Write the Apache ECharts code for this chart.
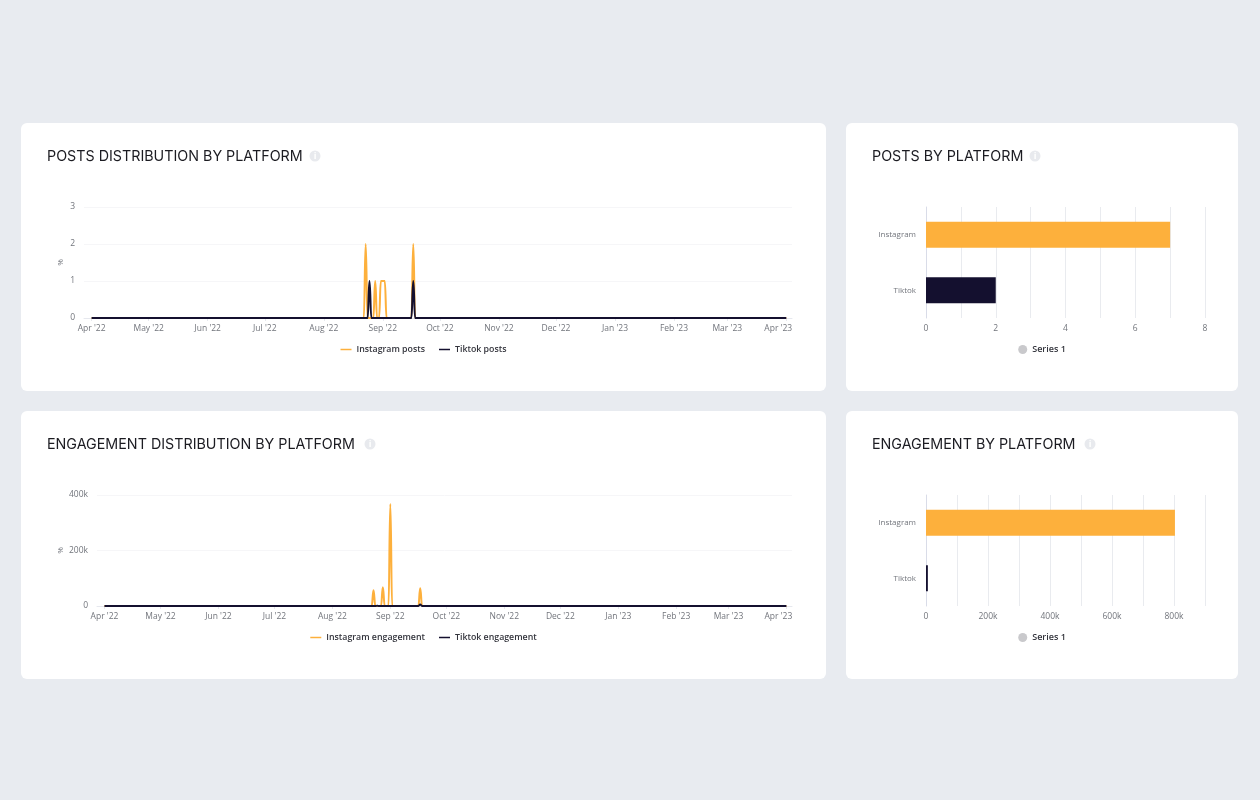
<!DOCTYPE html>
<html>
<head>
<meta charset="utf-8">
<script src="https://cdn.jsdelivr.net/npm/echarts@6/dist/echarts.min.js"></script>
<style>
  html, body { margin: 0; padding: 0; width: 1260px; height: 800px; overflow: hidden; background: #e8ebf0; }
  .card { position: absolute; background: #fff; border-radius: 6px; height: 268px; }
  .wide { left: 21px; width: 805px; }
  .narrow { left: 846px; width: 392px; }
  .top { top: 123px; }
  .bottom { top: 411px; }
</style>
</head>
<body>
<div class="card wide top" id="postsLine"></div>
<div class="card narrow top" id="postsBar"></div>
<div class="card wide bottom" id="engLine"></div>
<div class="card narrow bottom" id="engBar"></div>
<script>
// daily series are all zero apart from the spikes, so only the points around spikes are listed
var rangeDates = ["2022-04-01", "2023-04-01"];

var igPostDates = ["2022-08-22", "2022-08-23", "2022-08-24", "2022-08-27", "2022-08-28", "2022-08-29", "2022-08-30", "2022-08-31", "2022-09-01", "2022-09-02", "2022-09-03", "2022-09-16", "2022-09-17", "2022-09-18"];
var igPostValues = [0, 2, 0, 0, 1, 0, 0, 1, 1, 1, 0, 0, 2, 0];
var ttPostDates = ["2022-08-24", "2022-08-25", "2022-08-26", "2022-09-16", "2022-09-17", "2022-09-18"];
var ttPostValues = [0, 1, 0, 0, 1, 0];

var igEngDates = ["2022-08-22", "2022-08-23", "2022-08-24", "2022-08-27", "2022-08-28", "2022-08-29", "2022-08-31", "2022-09-01", "2022-09-02", "2022-09-16", "2022-09-17", "2022-09-18"];
var igEngValues = [0, 57000, 0, 0, 68000, 0, 0, 368000, 0, 0, 64000, 0];
var ttEngDates = ["2022-08-24", "2022-08-25", "2022-08-26", "2022-09-16", "2022-09-17", "2022-09-18"];
var ttEngValues = [0, 1000, 0, 0, 5000, 0];

var platforms = ["Instagram", "Tiktok"];
var postTotals = [7, 2];
var engTotals = [803000, 6000];
var platformColors = ["#fdb03c", "#14102f"];

var labelColor = "#72757c";
var labelFont = "'Open Sans', 'Noto Sans', sans-serif";

function infoIcon(x) {
  return [
    { type: "circle", shape: { cx: x, cy: 33, r: 5.5 }, style: { fill: "#e8eaee" } },
    { type: "text", x: x, y: 33, style: { text: "i", fill: "#fff", font: "bold 9px " + labelFont, textAlign: "center", textVerticalAlign: "middle" } }
  ];
}

function titleOpt(text) {
  return {
    text: text,
    left: 21,
    top: 22,
    textStyle: { color: "#1c1c22", fontFamily: "Inter, sans-serif", fontWeight: 400, fontSize: 14.3 }
  };
}

function withDates(dates, values) {
  var pts = [[rangeDates[0], 0]];
  dates.forEach(function (d, i) { pts.push([d, values[i]]); });
  pts.push([rangeDates[1], 0]);
  return pts;
}

function lineSeries(name, color, pts) {
  return {
    name: name,
    type: "line",
    data: pts,
    smooth: 0.5,
    smoothMonotone: "x",
    showSymbol: false,
    lineStyle: { color: color, width: 2 },
    itemStyle: { color: color }
  };
}

// line chart card
function drawLine(id, title, iconX, left, nameGap, yMax, yInterval, fmt, s1, s2) {
  var myChart = echarts.init(document.getElementById(id));
  myChart.setOption({
    animation: false,
    title: titleOpt(title),
    graphic: infoIcon(iconX),
    legend: {
      left: "center",
      top: 217,
      icon: "rect",
      itemWidth: 11,
      itemHeight: 1.5,
      itemGap: 14,
      textStyle: { color: "#33343c", fontFamily: labelFont, fontWeight: 600, fontSize: 8.8 }
    },
    grid: { left: left, right: 34, top: 84, bottom: 73 },
    xAxis: {
      type: "time",
      min: "2022-03-28",
      max: "2023-04-04",
      splitNumber: 12,
      axisLine: { lineStyle: { color: "#e6e8ee" } },
      axisTick: { length: 3, lineStyle: { color: "#e6e8ee" } },
      splitLine: { show: false },
      axisLabel: {
        color: labelColor,
        fontFamily: labelFont,
        fontSize: 8.5,
        margin: 6,
        showMinLabel: false,
        showMaxLabel: false,
        hideOverlap: false,
        formatter: function (v) {
          var s = echarts.time.format(v, "{MMM} '{yy}", false);
          // last label is pushed inside the plot edge
          return new Date(v).getFullYear() === 2023 && new Date(v).getMonth() === 3 ? "{last|" + s + "}" : s;
        },
        rich: { last: { color: labelColor, fontFamily: labelFont, fontSize: 8.5, padding: [0, 16, 0, 0] } }
      }
    },
    yAxis: {
      type: "value",
      min: 0,
      max: yMax,
      interval: yInterval,
      name: "%",
      nameLocation: "middle",
      nameGap: nameGap,
      nameMoveOverlap: false,
      nameRotate: 90,
      nameTextStyle: { color: labelColor, fontFamily: labelFont, fontSize: 8 },
      axisLine: { show: false },
      axisTick: { show: false },
      splitLine: { lineStyle: { color: "#f6f6f8" } },
      axisLabel: { color: labelColor, fontFamily: labelFont, fontSize: 8.5, margin: 9, formatter: fmt }
    },
    series: [s1, s2]
  });
  window.addEventListener("resize", function () { myChart.resize(); });
}

// horizontal bar card
function drawBar(id, title, iconX, values, xMax, xStep, labelStep, fmt) {
  var myChart = echarts.init(document.getElementById(id));
  myChart.setOption({
    animation: false,
    title: titleOpt(title),
    graphic: infoIcon(iconX),
    legend: {
      left: "center",
      top: 217,
      icon: "circle",
      itemWidth: 9,
      itemHeight: 9,
      itemStyle: { color: "#c9c9cc" },
      textStyle: { color: "#33343c", fontFamily: labelFont, fontWeight: 600, fontSize: 9 }
    },
    grid: { left: 80, right: 33, top: 84, bottom: 73 },
    xAxis: {
      type: "value",
      min: 0,
      max: xMax,
      interval: xStep,
      axisLine: { show: false },
      axisTick: { show: false },
      splitLine: { lineStyle: { color: "#e9ebef" } },
      axisLabel: {
        color: labelColor,
        fontFamily: labelFont,
        fontSize: 8.5,
        margin: 6,
        formatter: function (v) { return v % labelStep === 0 ? fmt(v) : ""; }
      }
    },
    yAxis: {
      type: "category",
      data: platforms,
      inverse: true,
      axisLine: { lineStyle: { color: "#d9dce8" } },
      axisTick: { show: false },
      axisLabel: { color: labelColor, fontFamily: labelFont, fontSize: 8, margin: 10 }
    },
    series: [{
      name: "Series 1",
      type: "bar",
      barWidth: 26,
      data: values.map(function (v, i) { return { value: v, itemStyle: { color: platformColors[i] } }; })
    }]
  });
  window.addEventListener("resize", function () { myChart.resize(); });
}

function plain(v) { return v; }
function kilo(v) { return v === 0 ? "0" : v / 1000 + "k"; }

drawLine("postsLine", "POSTS DISTRIBUTION BY PLATFORM", 294, 63, 19, 3, 1, plain,
  lineSeries("Instagram posts", platformColors[0], withDates(igPostDates, igPostValues)),
  lineSeries("Tiktok posts", platformColors[1], withDates(ttPostDates, ttPostValues)));
drawLine("engLine", "ENGAGEMENT DISTRIBUTION BY PLATFORM", 349, 76, 32, 400000, 200000, kilo,
  lineSeries("Instagram engagement", platformColors[0], withDates(igEngDates, igEngValues)),
  lineSeries("Tiktok engagement", platformColors[1], withDates(ttEngDates, ttEngValues)));
drawBar("postsBar", "POSTS BY PLATFORM", 189, postTotals, 8, 1, 2, plain);
drawBar("engBar", "ENGAGEMENT BY PLATFORM", 244, engTotals, 900000, 100000, 200000, kilo);
</script>
</body>
</html>
